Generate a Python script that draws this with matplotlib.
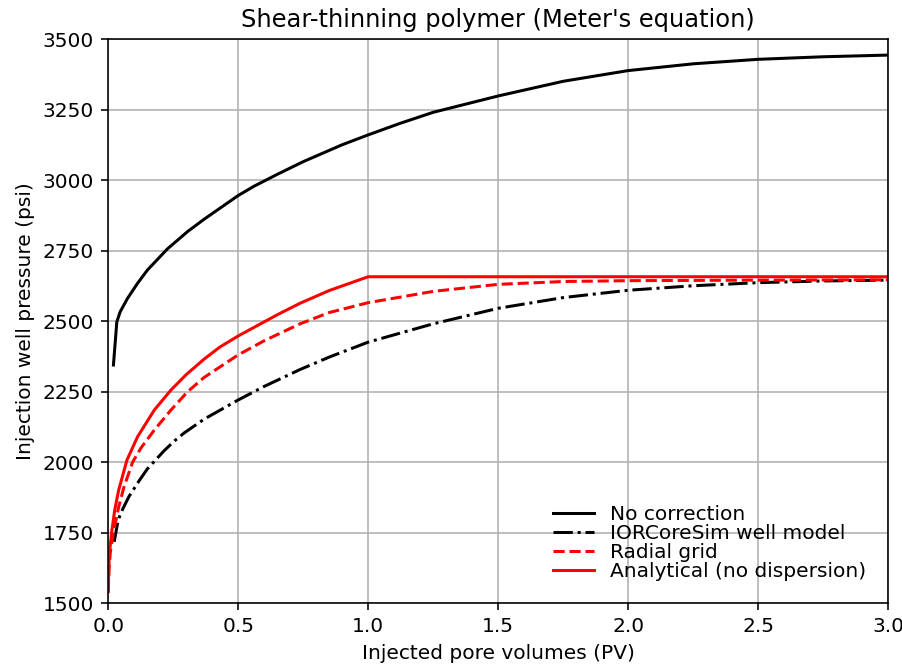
import matplotlib.pyplot as plt

# -------------------------
# Data
# -------------------------
pv_nocorr = [0.02, 0.033, 0.046, 0.074, 0.113, 0.151, 0.228, 0.305, 0.369, 0.5, 0.561, 0.65, 0.75,
             0.9, 1.0, 1.123, 1.25, 1.5, 1.75, 2.0, 2.25, 2.5, 2.75, 3.0]
p_nocorr = [2344, 2497, 2533, 2580, 2634, 2681, 2756, 2817, 2861, 2945, 2978, 3020, 3065,
            3125, 3160, 3201, 3240, 3298, 3350, 3388, 3412, 3428, 3437, 3443]

pv_well = [0.023, 0.038, 0.055, 0.08, 0.12, 0.15, 0.215, 0.255, 0.292, 0.369, 0.5, 0.6, 0.738, 0.85,
           1.0, 1.25, 1.5, 1.75, 2.0, 2.25, 2.5, 2.75, 3.0]
p_well = [1717, 1794, 1832, 1878, 1935, 1975, 2040, 2075, 2103, 2152, 2220, 2268, 2328, 2372,
          2425, 2490, 2545, 2583, 2609, 2625, 2636, 2642, 2645]

pv_radial = [0.0, 0.003, 0.008, 0.02, 0.04, 0.06, 0.094, 0.126, 0.177, 0.241, 0.305, 0.369, 0.5,
             0.6, 0.738, 0.85, 1.0, 1.25, 1.5, 1.75, 2.0, 2.5, 3.0]
p_radial = [1540, 1620, 1680, 1750, 1840, 1910, 2000, 2050, 2113, 2184, 2249, 2300, 2380,
            2430, 2490, 2530, 2565, 2605, 2630, 2640, 2643, 2645, 2646]

pv_analytic = [0.0, 0.002, 0.005, 0.013, 0.025, 0.04, 0.072, 0.113, 0.177, 0.241, 0.3, 0.369, 0.43,
               0.5, 0.562, 0.65, 0.738, 0.85, 1.0, 3.0]
p_analytic = [1540, 1620, 1680, 1750, 1830, 1900, 2007, 2090, 2184, 2255, 2310, 2365, 2408,
              2447, 2478, 2522, 2563, 2608, 2657, 2657]

# -------------------------
# Plot
# -------------------------
dpi = 145
fig = plt.figure(figsize=(902 / dpi, 668 / dpi), dpi=dpi)
ax = fig.add_axes([0.12, 0.0973, 0.8645, 0.8443])

ax.plot(pv_nocorr, p_nocorr, "k-", label="No correction")
ax.plot(pv_well, p_well, "k-.", label="IORCoreSim well model")
ax.plot(pv_radial, p_radial, "r--", label="Radial grid")
ax.plot(pv_analytic, p_analytic, "r-", label="Analytical (no dispersion)")

ax.set_xlim(0, 3)
ax.set_ylim(1500, 3500)
ax.grid(True)
ax.set_title("Shear-thinning polymer (Meter's equation)")
ax.set_xlabel("Injected pore volumes (PV)")
ax.set_ylabel("Injection well pressure (psi)")
ax.legend(loc="lower right", frameon=False, labelspacing=0.0, borderaxespad=0.7)

fig.savefig("out.png", dpi=dpi)
